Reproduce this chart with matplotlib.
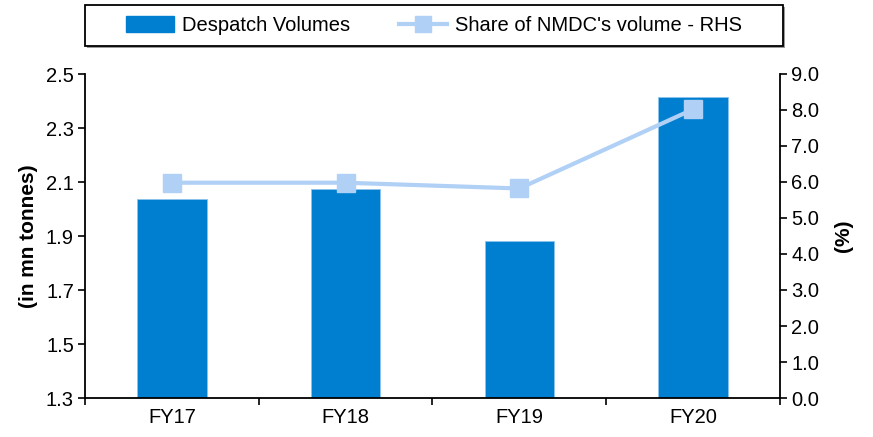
import matplotlib
matplotlib.use("Agg")
import matplotlib.pyplot as plt
from matplotlib.lines import Line2D
from matplotlib.patches import Patch, Rectangle

plt.rcParams['font.family'] = ['Liberation Sans', 'DejaVu Sans']

categories = ["FY17", "FY18", "FY19", "FY20"]
despatch_volumes = [2.037, 2.074, 1.883, 2.414]   # mn tonnes
nmdc_share = [5.98, 5.98, 5.82, 8.02]              # %

bar_color = "#007FD0"
line_color = "#B0D0F5"
fs = 14.5

W, H = 873, 437
fig = plt.figure(figsize=(W / 100, H / 100), dpi=100)
ax = fig.add_axes([85 / W, 1 - 398 / H, (780 - 85) / W, (398 - 74) / H])
x = list(range(len(categories)))

ax.bar(x, despatch_volumes, width=0.4, color=bar_color, edgecolor="#8EC3EE",
       linewidth=0.6, zorder=2)
left_ticks = [1.3, 1.5, 1.7, 1.9, 2.1, 2.3, 2.5]
ax.set_ylim(1.3, 2.5)
ax.set_yticks(left_ticks)
ax.set_yticklabels([f"{v:.1f}" for v in left_ticks])
ax.set_xlim(-0.5, 3.5)
ax.set_xticks([-0.5, 0.5, 1.5, 2.5, 3.5])
ax.set_xticklabels([])
ax.set_xticks(x, minor=True)
ax.set_xticklabels(categories, minor=True)
ax.tick_params(axis="x", which="minor", length=0, pad=7, labelsize=fs)
ax.tick_params(axis="x", which="major", length=5, width=1.2, direction="out")
ax.tick_params(axis="y", length=5, width=1.2, direction="out", labelsize=fs, pad=3)
ax.set_ylabel("(in mn tonnes)", fontsize=15, fontweight="bold", labelpad=6)
for s in ["top", "right"]:
    ax.spines[s].set_visible(False)
for s in ["left", "bottom"]:
    ax.spines[s].set_linewidth(1.3)

ax2 = ax.twinx()
ax2.plot(x, nmdc_share, color=line_color, linewidth=3, marker="s",
         markersize=13, markerfacecolor=line_color, markeredgecolor=line_color,
         zorder=3)
ax2.set_ylim(0, 9)
ax2.set_yticks(range(0, 10))
ax2.set_yticklabels([f"{v:.1f}" for v in range(0, 10)])
ax2.tick_params(axis="y", length=5, width=1.2, direction="out", labelsize=fs, pad=3)
ax2.set_ylabel("(%)", fontsize=15, fontweight="bold", labelpad=11)
for s in ["top", "left", "bottom"]:
    ax2.spines[s].set_visible(False)
ax2.spines["right"].set_linewidth(1.3)

# legend box with a soft drop shadow
bx0, bx1, by0, by1 = 85, 783, 5, 46
fig.patches.append(Rectangle(((bx0 + 2) / W, 1 - (by1 + 2) / H), (bx1 - bx0) / W,
                             (by1 - by0) / H, transform=fig.transFigure,
                             facecolor="#9a9a9a", edgecolor="none", zorder=0))
fig.patches.append(Rectangle((bx0 / W, 1 - by1 / H), (bx1 - bx0) / W,
                             (by1 - by0) / H, transform=fig.transFigure,
                             facecolor="white", edgecolor="black",
                             linewidth=1.3, zorder=1))

handles = [
    Patch(facecolor=bar_color, edgecolor=bar_color, label="Despatch Volumes"),
    Line2D([0], [0], color=line_color, linewidth=3, marker="s", markersize=11,
           markerfacecolor=line_color, markeredgecolor=line_color,
           label="Share of NMDC's volume - RHS"),
]
leg = fig.legend(handles=handles, loc="center", ncol=2,
                 bbox_to_anchor=((bx0 + bx1) / 2 / W, 1 - (by0 + by1) / 2 / H),
                 fontsize=fs, frameon=False, handlelength=2.4,
                 handleheight=0.8, handletextpad=0.4, columnspacing=2.4)
leg.set_zorder(2)

fig.savefig("out.png", dpi=100)
